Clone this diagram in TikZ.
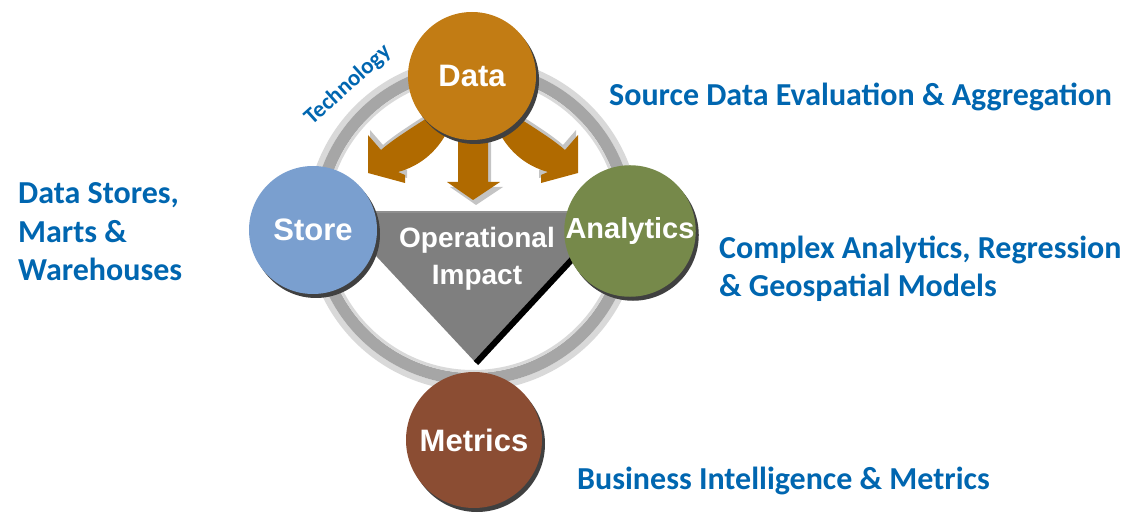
\documentclass[tikz,border=0pt]{standalone}
\usepackage{fontspec}
\setmainfont{Liberation Sans}
\newfontfamily\calib{Carlito}
\usetikzlibrary{shadows}
\definecolor{lblue}{RGB}{0,102,176}
\definecolor{datac}{HTML}{C27C14}
\definecolor{storec}{HTML}{7A9FCF}
\definecolor{anac}{HTML}{76894A}
\definecolor{metc}{HTML}{8B4D33}
\definecolor{arrc}{HTML}{B06A00}
\definecolor{bevc}{HTML}{C4C4C4}
\definecolor{ringlight}{HTML}{D9D9D9}
\definecolor{ringdark}{HTML}{A6A6A6}
\definecolor{tric}{HTML}{7F7F7F}
\definecolor{shadc}{HTML}{404040}
\tikzset{
  ball/.style={circle, minimum size=128pt, inner sep=0pt, text=white,
    font=\bfseries\fontsize{31}{31}\selectfont,
    drop shadow={shadow xshift=3pt, shadow yshift=-4pt, fill=shadc, opacity=1}},
  lbl/.style={text=lblue, inner sep=0pt, align=left,
    font=\calib\bfseries\fontsize{32}{38.5}\selectfont},
  arrowfill/.style={fill=arrc},
  bevel/.style={fill=bevc}
}
\begin{document}
\begin{tikzpicture}[x=1pt,y=-1pt]
\useasboundingbox (0,0) rectangle (1138,518);
% ring
\draw[ringlight, line width=6pt] (473,224) circle[radius=164];
\draw[ringdark, line width=12pt] (473,224) circle[radius=155];
\draw[ringlight, line width=3pt] (473,224) circle[radius=147.5];
% triangle
\fill[tric] (335,212) -- (615,212) -- (476,363) -- cycle;
\draw[black!25!tric!70!white, line width=2pt] (340,212) -- (610,212);
\draw[black, line width=6pt] (476,363) -- (590,240);
% arrows: bevels
\begin{scope}[shift={(2,-5)}]
\fill[bevel] (368,135) -- (368,173) -- (405,183) -- (405,175) -- (398,172) .. controls (420,166) and (436,152) .. (446,134) -- (440,112) -- (424,120) .. controls (405,132) and (390,142) .. (381,150) -- cycle;
\end{scope}
\begin{scope}[shift={(-2,-5)}]
\fill[bevel] (578,135) -- (578,173) -- (541,183) -- (541,175) -- (548,172) .. controls (526,166) and (510,152) .. (500,134) -- (506,112) -- (522,120) .. controls (541,132) and (556,142) .. (565,150) -- cycle;
\end{scope}
\begin{scope}[shift={(3,5)}]
\fill[bevel] (458,120) -- (458,182) -- (447,182) -- (473,200) -- (500,182) -- (488,182) -- (488,120) -- cycle;
\end{scope}
% arrows
\fill[arrowfill] (368,135) -- (368,173) -- (405,183) -- (405,175) -- (398,172) .. controls (420,166) and (436,152) .. (446,134) -- (440,112) -- (424,120) .. controls (405,132) and (390,142) .. (381,150) -- cycle;
\fill[arrowfill] (578,135) -- (578,173) -- (541,183) -- (541,175) -- (548,172) .. controls (526,166) and (510,152) .. (500,134) -- (506,112) -- (522,120) .. controls (541,132) and (556,142) .. (565,150) -- cycle;
\fill[arrowfill] (458,120) -- (458,182) -- (447,182) -- (473,200) -- (500,182) -- (488,182) -- (488,120) -- cycle;
% circles
\node[ball, fill=storec] (store) at (313,230) {Store};
\node[ball, fill=anac, font=\bfseries\fontsize{29}{29}\selectfont] (analytics) at (630,231) {Analytics};
\node[ball, fill=metc, minimum size=136pt] (metrics) at (474,440) {Metrics};
\node[ball, fill=datac] (data) at (472,76) {Data};
% centre text
\node[text=white, inner sep=0pt, align=center, font=\bfseries\fontsize{28}{37}\selectfont] (impact) at (477,259) {Operational\\Impact};
% technology
\node[text=lblue, inner sep=0pt, rotate=42, font=\calib\bfseries\fontsize{23}{23}\selectfont] (tech) at (348,85) {Technology};
% labels
\node[lbl, anchor=base west] (src) at (609,106) {Source Data Evaluation \& Aggregation};
\node[lbl, anchor=west] (stores) at (18,232) {Data Stores,\\Marts \&\\Warehouses};
\node[lbl, anchor=west] (complex) at (719,269) {Complex Analytics, Regression\\\& Geospatial Models};
\node[lbl, anchor=west] (bi) at (577,481) {Business Intelligence \& Metrics};
\end{tikzpicture}
\end{document}
